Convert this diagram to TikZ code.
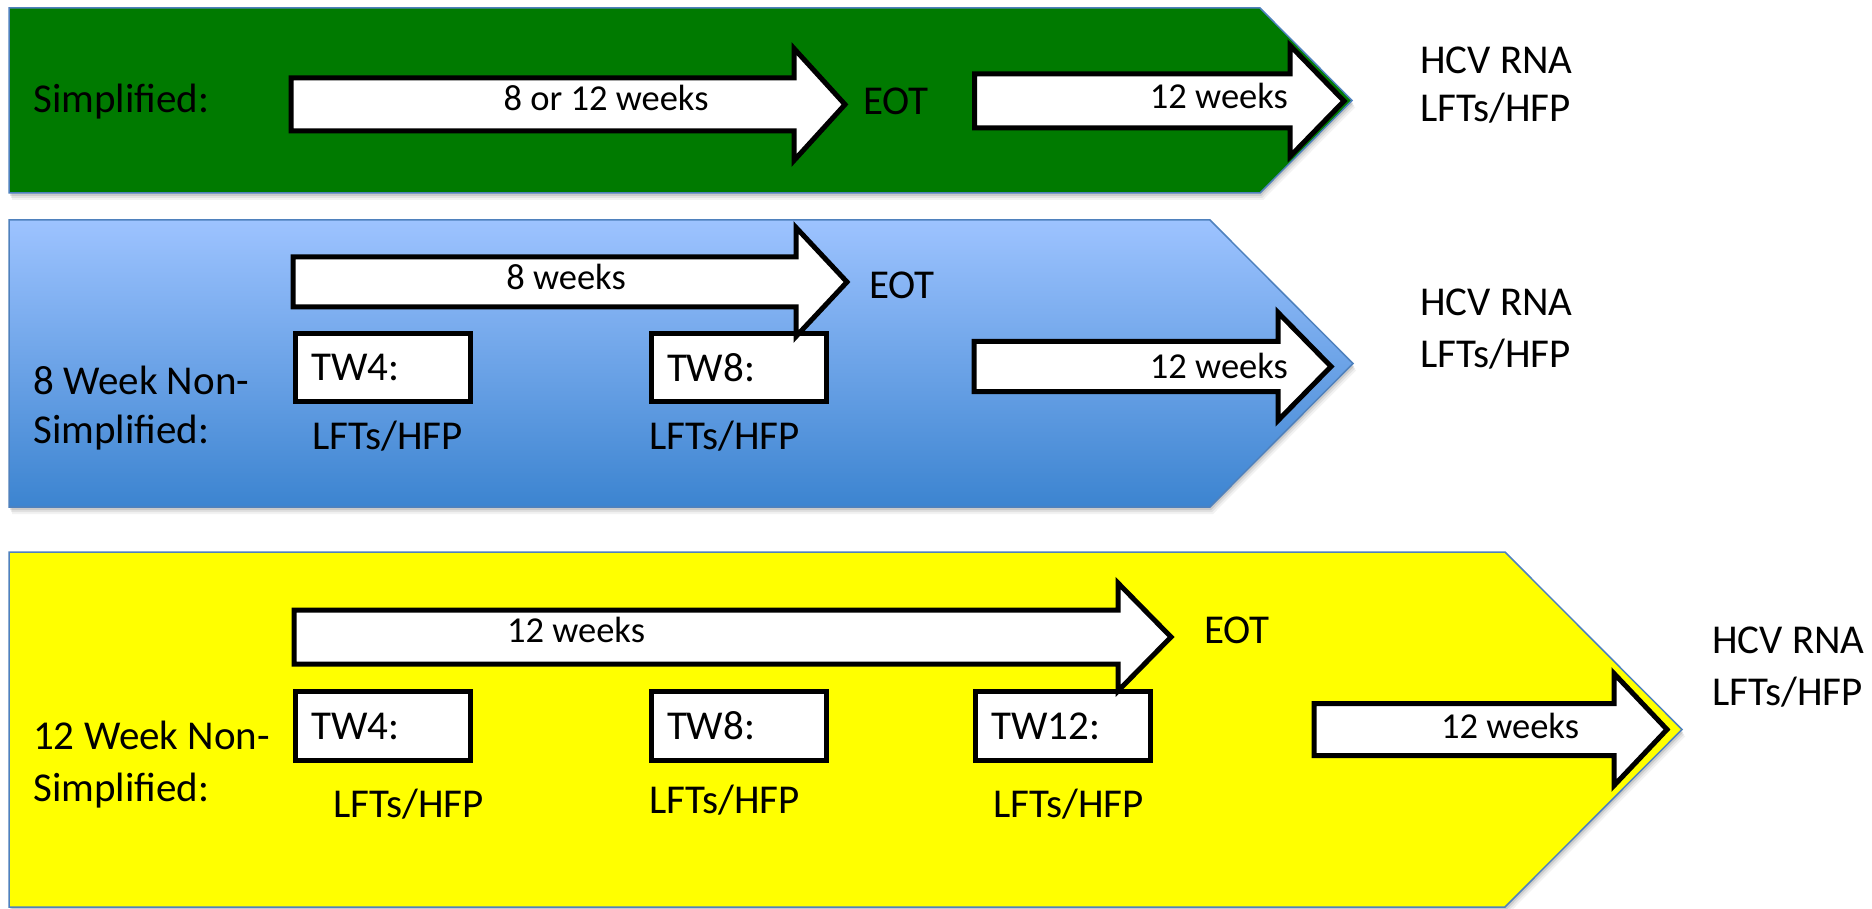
\documentclass[tikz,border=0pt]{standalone}
\usepackage{fontspec}
\setmainfont{Carlito}
\definecolor{pgreen}{RGB}{0,122,0}
\definecolor{pyellow}{RGB}{255,255,0}
\definecolor{pbluetop}{RGB}{157,195,255}
\definecolor{pbluebot}{RGB}{60,132,208}
\definecolor{pedge}{RGB}{79,129,189}
\tikzset{
  panel/.style={draw=pedge, line width=1.5pt, line join=miter},
  blk/.style={draw=black, fill=white, line width=5pt, line join=miter, miter limit=10},
  twbox/.style={draw=black, fill=white, line width=5pt, minimum width=175pt,
    minimum height=68pt, text width=143pt, inner xsep=16pt, inner ysep=0pt,
    align=left, font=\fontsize{41}{49}\selectfont},
  lbl/.style={font=\fontsize{41}{49}\selectfont, inner sep=0pt},
  atxt/.style={font=\fontsize{36.5}{44}\selectfont, inner sep=0pt},
  shd/.style={fill=black, draw=none},
}
% #1 x left, #2 x head base, #3 x tip, #4 y centre, #5 body half, #6 head half
\newcommand\blkarrow[6]{%
  \draw[blk] (#1,#4-#5) -- (#2,#4-#5) -- (#2,#4-#6) -- (#3,#4) -- (#2,#4+#6)
    -- (#2,#4+#5) -- (#1,#4+#5) -- cycle;}
% #1 top, #2 bottom, #3 slant start x, #4 tip x
\newcommand\panelpath[4]{(9,#1) -- (#3,#1) -- (#4,{(#1+#2)/2}) -- (#3,#2) -- (9,#2) -- cycle}
\newcommand\panelshadow[4]{%
  \fill[shd, opacity=0.10, xshift=1pt, yshift=-3pt] \panelpath{#1}{#2}{#3}{#4};
  \fill[shd, opacity=0.07, xshift=2pt, yshift=-5pt] \panelpath{#1}{#2}{#3}{#4};
  \fill[shd, opacity=0.05, xshift=3pt, yshift=-7pt] \panelpath{#1}{#2}{#3}{#4};}
\begin{document}
\begin{tikzpicture}[x=1pt, y=-1pt]
\useasboundingbox (0,0) rectangle (1872,909);

% ---------- panels ----------
\panelshadow{8}{193}{1260}{1352}
\fill[pgreen] \panelpath{8}{193}{1260}{1352};
\draw[panel] \panelpath{8}{193}{1260}{1352};

\panelshadow{220}{507}{1210}{1353}
\shade[top color=pbluetop, bottom color=pbluebot] \panelpath{220}{507}{1210}{1353};
\draw[panel] \panelpath{220}{507}{1210}{1353};

\panelshadow{552}{907}{1505}{1682}
\fill[pyellow] \panelpath{552}{907}{1505}{1682};
\draw[panel] \panelpath{552}{907}{1505}{1682};

% ---------- Simplified (green) ----------
\node[lbl, anchor=base west] (gLab) at (33,113) {Simplified:};
\blkarrow{291}{794}{845}{104.5}{26.5}{56}
\node[atxt, anchor=base] (gW1) at (606,111) {8 or 12 weeks};
\node[lbl, anchor=base west] (gEot) at (863,115) {EOT};
\blkarrow{974.5}{1290}{1344}{101}{27}{55.5}
\node[atxt, anchor=base east] (gW2) at (1288,109) {12 weeks};
\node[lbl, anchor=base west] (gHcv) at (1420,74) {HCV RNA};
\node[lbl, anchor=base west] (gLft) at (1420,122) {LFTs/HFP};

% ---------- 8 week (blue) ----------
\node[lbl, anchor=base west] (bLab1) at (33,395) {8 Week Non-};
\node[lbl, anchor=base west] (bLab2) at (33,443) {Simplified:};
\node[twbox] (bTw4) at (383,367.5) {TW4:};
\node[twbox] (bTw8) at (738.5,367.5) {TW8:};
\blkarrow{293}{796}{847}{282}{25}{54.5}
\node[atxt, anchor=base] (bW1) at (566,290) {8 weeks};
\node[lbl, anchor=base west] (bEot) at (869,299) {EOT};
\node[lbl, anchor=base west] (bL4) at (312,449) {LFTs/HFP};
\node[lbl, anchor=base west] (bL8) at (649,449) {LFTs/HFP};
\blkarrow{974}{1278}{1331}{366.5}{25}{54}
\node[atxt, anchor=base east] (bW2) at (1288,378) {12 weeks};
\node[lbl, anchor=base west] (bHcv) at (1420,316) {HCV RNA};
\node[lbl, anchor=base west] (bLft) at (1420,367) {LFTs/HFP};

% ---------- 12 week (yellow) ----------
\node[lbl, anchor=base west] (yLab1) at (33,749) {12 Week Non-};
\node[lbl, anchor=base west] (yLab2) at (33,801) {Simplified:};
\node[twbox, minimum height=69pt] (yTw4) at (383,726) {TW4:};
\node[twbox, minimum height=69pt] (yTw8) at (738.5,726) {TW8:};
\node[twbox, minimum height=69pt] (yTw12) at (1063,726) {TW12:};
\blkarrow{294}{1118}{1171}{637}{27}{54}
\node[atxt, anchor=base] (yW1) at (576,642) {12 weeks};
\node[lbl, anchor=base west] (yEot) at (1204,643) {EOT};
\node[lbl, anchor=base west] (yL4) at (333,817) {LFTs/HFP};
\node[lbl, anchor=base west] (yL8) at (649,813) {LFTs/HFP};
\node[lbl, anchor=base west] (yL12) at (993,817) {LFTs/HFP};
\blkarrow{1314}{1614}{1667}{729.5}{26}{56}
\node[atxt, anchor=base] (yW2) at (1510,738) {12 weeks};
\node[lbl, anchor=base west] (yHcv) at (1712,653) {HCV RNA};
\node[lbl, anchor=base west] (yLft) at (1712,705) {LFTs/HFP};
\end{tikzpicture}
\end{document}
